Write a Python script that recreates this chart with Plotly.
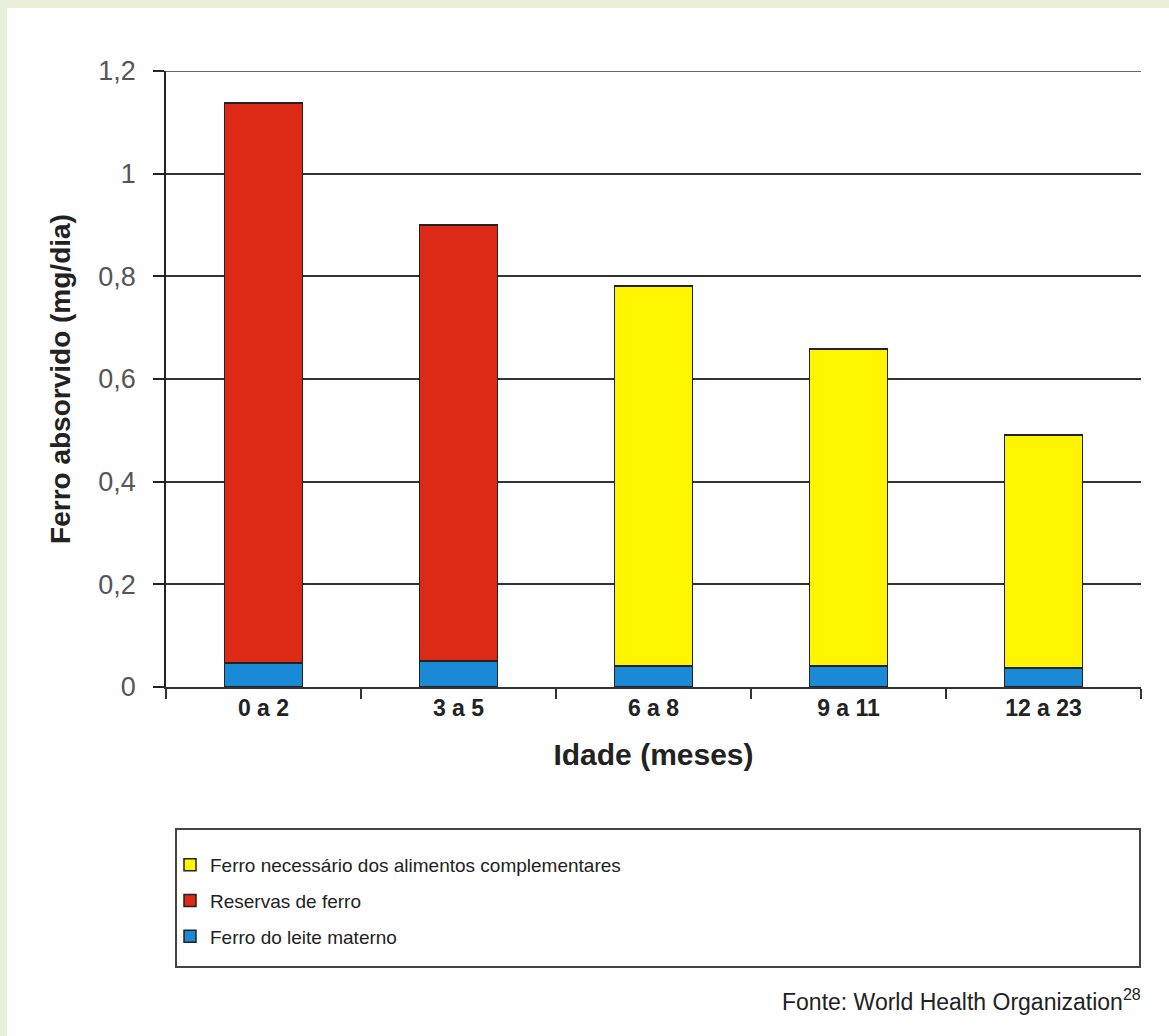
import plotly.graph_objects as go

categories = ["0 a 2", "3 a 5", "6 a 8", "9 a 11", "12 a 23"]
leite_materno = [0.047, 0.051, 0.041, 0.041, 0.037]
reservas_ferro = [1.091, 0.849, 0.0, 0.0, 0.0]
alimentos_complementares = [0.0, 0.0, 0.740, 0.617, 0.454]
y_ticks = [0, 0.2, 0.4, 0.6, 0.8, 1.0, 1.2]

W, H = 1169, 1036
L, R, T, B = 166, 28, 71, 349
pw, ph = W - L - R, H - T - B


def px_x(px):
    return (px - L) / pw


def px_y(py):
    return (H - B - py) / ph


line = dict(color="#222222", width=1.5)
fig = go.Figure()
fig.add_trace(go.Bar(x=categories, y=leite_materno, name="Ferro do leite materno",
                     marker=dict(color="#1a8ad6", line=line), legendgroup="c", legendrank=3))
fig.add_trace(go.Bar(x=categories, y=reservas_ferro, name="Reservas de ferro",
                     marker=dict(color="#dc2a17", line=line), legendgroup="b", legendrank=2))
fig.add_trace(go.Bar(x=categories, y=alimentos_complementares,
                     name="Ferro necessário dos alimentos complementares",
                     marker=dict(color="#fff500", line=line), legendgroup="a", legendrank=1))

fig.update_layout(
    width=W, height=H,
    margin=dict(l=L, r=R, t=T, b=B, autoexpand=False),
    barmode="stack", bargap=0.6,
    separators=",.",
    paper_bgcolor="#e9f0da", plot_bgcolor="white",
    font=dict(family="Liberation Sans, Arial, sans-serif", color="#222222"),
    legend=dict(x=px_x(170), y=px_y(846), xanchor="left", yanchor="top",
                traceorder="grouped", tracegroupgap=8,
                bgcolor="rgba(0,0,0,0)", font=dict(size=19, color="#222222")),
    shapes=[
        dict(type="rect", xref="paper", yref="paper", layer="below",
             x0=px_x(7), x1=px_x(1175), y0=px_y(1040), y1=px_y(8),
             fillcolor="white", line=dict(width=0)),
        dict(type="rect", xref="paper", yref="paper",
             x0=px_x(176), x1=px_x(1140), y0=px_y(967), y1=px_y(829),
             fillcolor="rgba(0,0,0,0)", line=dict(color="#444444", width=2)),
        dict(type="line", xref="paper", yref="y", x0=px_x(155), x1=1,
             y0=1.2, y1=1.2, line=dict(color="#333333", width=1.5)),
    ],
    annotations=[
        dict(text="Fonte: World Health Organization<sup>28</sup>", xref="paper", yref="paper",
             x=px_x(1143), y=px_y(1000), xanchor="right", yanchor="middle", showarrow=False,
             font=dict(size=23, color="#222222")),
    ],
)

fig.update_yaxes(range=[0, 1.2], tickvals=y_ticks, showgrid=True, gridcolor="#333333",
                 gridwidth=1.5, showline=True, linecolor="#222222", linewidth=1.5,
                 ticks="outside", ticklen=11, tickcolor="#222222", tickwidth=1.5,
                 tickfont=dict(size=27, color="#555555"), ticklabelstandoff=12,
                 zeroline=False,
                 title=dict(text="<b>Ferro absorvido (mg/dia)</b>", standoff=20,
                            font=dict(size=28, color="#222222")))
fig.update_xaxes(showline=True, linecolor="#333333", linewidth=1.5, tickson="boundaries",
                 ticks="outside", ticklen=10, tickcolor="#333333", tickwidth=1.5,
                 tickfont=dict(size=23, color="#222222", weight="bold"),
                 title=dict(text="<b>Idade (meses)</b>", standoff=24,
                            font=dict(size=30, color="#222222")))

fig.write_html("out.html")
